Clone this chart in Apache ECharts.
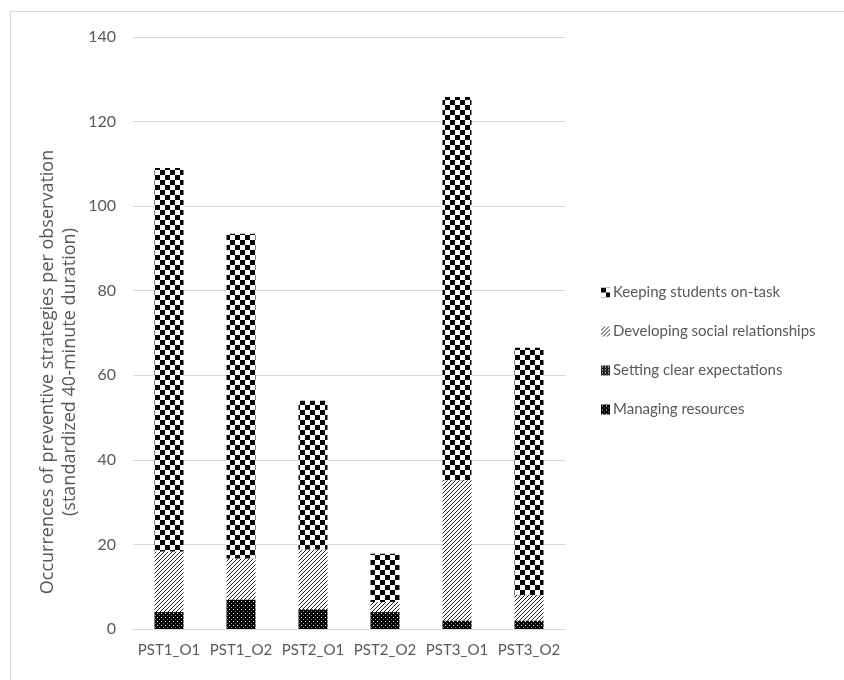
<!DOCTYPE html>
<html>
<head>
<meta charset="utf-8">
<script src="https://cdn.jsdelivr.net/npm/echarts@6/dist/echarts.min.js"></script>
<style>
  html, body { margin: 0; padding: 0; background: #fff; }
  #chart { width: 844px; height: 680px; }
</style>
</head>
<body>
<div id="chart"></div>
<script>
// observations on the x axis
const categories = ['PST1_O1', 'PST1_O2', 'PST2_O1', 'PST2_O2', 'PST3_O1', 'PST3_O2']
// stacked segments, bottom to top
const managingResources = [4, 7, 4.7, 4, 2, 2]
const settingExpectations = [0, 0, 0, 0, 0, 0]
const developingRelationships = [14.3, 9.7, 14.1, 2.4, 33.2, 6]
const keepingOnTask = [90.7, 76.8, 35.2, 11.4, 90.6, 58.5]
const yTicks = [0, 20, 40, 60, 80, 100, 120, 140]

const seriesNames = [
  'Managing resources',
  'Setting clear expectations',
  'Developing social relationships',
  'Keeping students on-task'
]

// small canvas tiles to mimic the Excel fill patterns
function tile(size, draw) {
  const c = document.createElement('canvas')
  c.width = size
  c.height = size
  const ctx = c.getContext('2d')
  ctx.fillStyle = '#fff'
  ctx.fillRect(0, 0, size, size)
  draw(ctx, size)
  return { image: c, repeat: 'repeat' }
}

const checker = tile(10, (ctx) => {
  ctx.fillStyle = '#000'
  ctx.fillRect(0, 0, 5, 5)
  ctx.fillRect(5, 5, 5, 5)
})

const diagonal = tile(4, (ctx, s) => {
  ctx.strokeStyle = '#222'
  ctx.lineWidth = 1
  ctx.beginPath()
  ctx.moveTo(-1, s + 1)
  ctx.lineTo(s + 1, -1)
  ctx.stroke()
})

const denseGrid = tile(3, (ctx) => {
  ctx.fillStyle = '#222'
  ctx.fillRect(0, 0, 3, 3)
  ctx.fillStyle = '#fff'
  ctx.fillRect(1, 1, 1, 1)
})

const dotted = tile(4, (ctx) => {
  ctx.fillStyle = '#000'
  ctx.fillRect(0, 0, 4, 4)
  ctx.fillStyle = '#fff'
  ctx.fillRect(1, 1, 1, 1)
  ctx.fillStyle = '#888'
  ctx.fillRect(3, 3, 1, 1)
})

const fills = [dotted, denseGrid, diagonal, checker]
const values = [managingResources, settingExpectations, developingRelationships, keepingOnTask]

const font = 'Lato, "Open Sans", sans-serif'
const textColor = '#595959'

const chart = echarts.init(document.getElementById('chart'), null, { renderer: 'canvas' })

const option = {
  animation: false,
  textStyle: { fontFamily: font },
  grid: {
    left: 133,
    right: 279,
    top: 37,
    bottom: 51,
    containLabel: false
  },
  legend: {
    orient: 'vertical',
    left: 596,
    top: 280,
    itemWidth: 9,
    itemHeight: 10,
    itemGap: 24,
    icon: 'rect',
    data: seriesNames.slice().reverse(),
    textStyle: { color: textColor, fontSize: 15, fontFamily: font, padding: [0, 0, 0, -2] }
  },
  xAxis: {
    type: 'category',
    data: categories,
    axisLine: { lineStyle: { color: '#d9d9d9', width: 1 } },
    axisTick: { show: false },
    axisLabel: { color: textColor, fontSize: 15, margin: 14, interval: 0 }
  },
  yAxis: {
    type: 'value',
    min: yTicks[0],
    max: yTicks[yTicks.length - 1],
    interval: 20,
    axisLine: { show: false },
    axisTick: { show: false },
    axisLabel: { color: textColor, fontSize: 16, margin: 17 },
    splitLine: { lineStyle: { color: '#d9d9d9', width: 1 } }
  },
  graphic: [
    {
      type: 'rect',
      silent: true,
      shape: { x: 10.5, y: 11.5, width: 900, height: 700 },
      style: { fill: 'none', stroke: '#d9d9d9', lineWidth: 1 }
    },
    {
      type: 'text',
      silent: true,
      x: 59,
      y: 372,
      rotation: Math.PI / 2,
      style: {
        text: 'Occurrences of preventive strategies per observation\n(standardized 40-minute duration)',
        fill: textColor,
        font: '18px "Open Sans", sans-serif',
        align: 'center',
        verticalAlign: 'middle',
        lineHeight: 22
      }
    }
  ],
  series: seriesNames.map((name, i) => ({
    name,
    type: 'bar',
    stack: 'total',
    barWidth: 29,
    data: values[i],
    itemStyle: {
      color: fills[i],
      borderColor: 'rgba(0,0,0,0)'
    }
  }))
}

chart.setOption(option)
</script>
</body>
</html>
